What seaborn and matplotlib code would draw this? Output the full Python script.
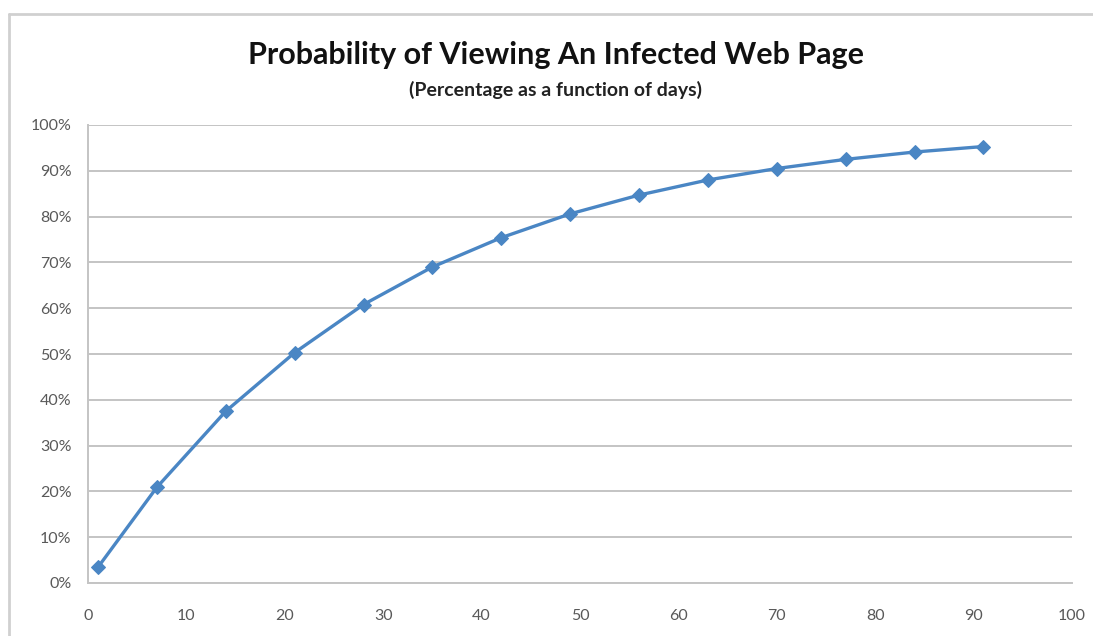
import matplotlib
matplotlib.use("Agg")
import matplotlib.pyplot as plt
from matplotlib.lines import Line2D
from matplotlib.ticker import FuncFormatter
import seaborn as sns
import pandas as pd

# Days since first exposure and the cumulative probability (%) of viewing an infected page
days = [1, 7, 14, 21, 28, 35, 42, 49, 56, 63, 70, 77, 84, 91]
probability = [3.4, 20.9, 37.5, 50.3, 60.8, 69.0, 75.4, 80.6, 84.7, 88.0, 90.5, 92.5, 94.1, 95.3]

x_ticks = [0, 10, 20, 30, 40, 50, 60, 70, 80, 90, 100]
y_ticks = [0, 10, 20, 30, 40, 50, 60, 70, 80, 90, 100]

title = "Probability of Viewing An Infected Web Page"
subtitle = "(Percentage as a function of days)"

sns.set_theme(style="white")
plt.rcParams["font.family"] = ["Lato", "DejaVu Sans"]

df = pd.DataFrame({"day": days, "pct": probability})

fig = plt.figure(figsize=(10.93, 6.36), dpi=100)
ax = fig.add_axes([88 / 1093, 53 / 636, (1072 - 88) / 1093, (583 - 125) / 636])

grid_color = "#c4c4c4"
text_color = "#595959"
line_color = "#4a86c4"

sns.lineplot(data=df, x="day", y="pct", ax=ax, color=line_color, linewidth=2.4,
             marker="D", markersize=7.5, markeredgecolor=line_color, zorder=3)

ax.set_xlim(0, 100)
ax.set_ylim(0, 100)
ax.set_xticks(x_ticks)
ax.set_yticks(y_ticks)
ax.yaxis.set_major_formatter(FuncFormatter(lambda v, _: f"{int(v)}%"))
ax.set_xlabel("")
ax.set_ylabel("")

ax.grid(axis="y", color=grid_color, linewidth=1.4)
ax.grid(axis="x", visible=False)
ax.set_axisbelow(True)

for side in ("top", "right"):
    ax.spines[side].set_visible(False)
for side in ("left", "bottom"):
    ax.spines[side].set_color(grid_color)
    ax.spines[side].set_linewidth(1.4)

ax.tick_params(axis="both", which="major", direction="out", length=5, width=1.2,
               color=grid_color, labelcolor=text_color, labelsize=11.5)
ax.tick_params(axis="x", pad=14)
ax.tick_params(axis="y", pad=7)

fig.text(556 / 1093, 1 - 55 / 636, title, ha="center", va="center",
         fontsize=22, fontweight="bold", color="#111111")
fig.text(556 / 1093, 1 - 90 / 636, subtitle, ha="center", va="center",
         fontsize=14, fontweight="bold", color="#222222")

# Chart area frame (top and left edges)
frame_color = "#d0d0d0"
fig.add_artist(Line2D([9 / 1093, 1.0], [1 - 14 / 636, 1 - 14 / 636], color=frame_color, linewidth=2))
fig.add_artist(Line2D([9 / 1093, 9 / 1093], [0.0, 1 - 14 / 636], color=frame_color, linewidth=2))

fig.savefig("out.png", dpi=100, facecolor="white")
